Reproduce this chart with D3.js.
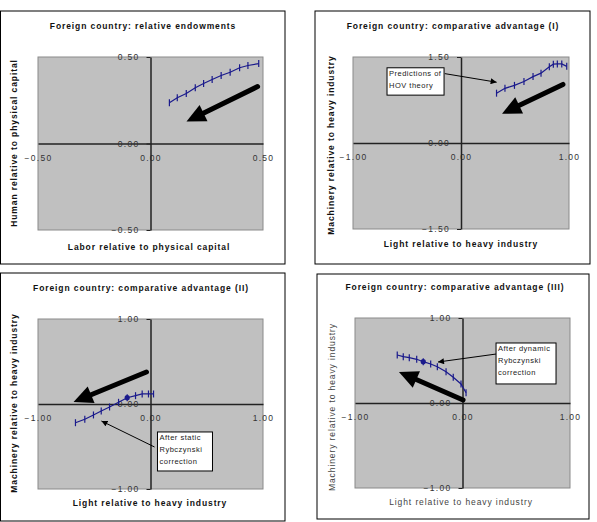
<!DOCTYPE html>
<html>
<head>
  <meta charset="utf-8">
  <title>Foreign country panels</title>
  <script src="https://d3js.org/d3.v7.min.js"></script>
  <style>
    body { margin: 0; padding: 0; background: white; }
    svg { font-family: Arial, "Liberation Sans", sans-serif; display: block; }
    .tick text { fill: #333; font-size: 8.5px; letter-spacing: 1.3px; }
    .ttl { font-size: 8.5px; font-weight: bold; letter-spacing: 0.9px; fill: #111; }
  </style>
</head>
<body>
  <div id="chart"></div>
  <script>
    // values
    var p1X = [0.084, 0.119, 0.159, 0.199, 0.236, 0.274, 0.314, 0.354, 0.396, 0.433, 0.481];
    var p1Y = [0.235, 0.264, 0.289, 0.322, 0.347, 0.370, 0.393, 0.412, 0.438, 0.451, 0.462];
    var p2X = [0.329, 0.407, 0.495, 0.583, 0.667, 0.741, 0.818, 0.855, 0.892, 0.933, 0.979];
    var p2Y = [0.869, 0.954, 1.005, 1.073, 1.158, 1.218, 1.329, 1.375, 1.380, 1.380, 1.337];
    var p3X = [-0.667, -0.584, -0.507, -0.438, -0.364, -0.284, -0.207, -0.133, -0.074, -0.018, 0.027];
    var p3Y = [-0.220, -0.180, -0.129, -0.082, -0.035, 0.020, 0.074, 0.098, 0.118, 0.118, 0.118];
    var p4X = [-0.607, -0.551, -0.495, -0.426, -0.365, -0.296, -0.234, -0.153, -0.086, -0.014, 0.033];
    var p4Y = [0.565, 0.545, 0.533, 0.514, 0.486, 0.459, 0.427, 0.368, 0.302, 0.224, 0.121];

    var ticks1 = [-0.5, 0, 0.5];
    var ticks2 = [-1, 0, 1];
    var ticks2y = [-1.5, 0, 1.5];

    var titles = ["Foreign country: relative endowments",
                  "Foreign country: comparative advantage (I)",
                  "Foreign country: comparative advantage (II)",
                  "Foreign country: comparative advantage (III)"];
    var xTitles = ["Labor relative to physical capital", "Light relative to heavy industry",
                   "Light relative to heavy industry", "Light relative to heavy industry"];
    var yTitles = ["Human relative to physical capital", "Machinery relative to heavy industry",
                   "Machinery relative to heavy industry", "Machinery relative to heavy industry"];

    // annotations, in data units: [x1, y1, x2, y2]
    var bigArrows = [[0.476, 0.329, 0.16, 0.127], [0.944, 1.022, 0.38, 0.511],
                     [-0.036, 0.376, -0.684, 0.024], [0.005, 0.035, -0.591, 0.365]];
    var noteArrows = [null, [-0.15, 1.21, 0.33, 1.06], [0.036, -0.506, -0.436, -0.2], [0.312, 0.576, -0.228, 0.482]];
    var noteBoxes = [null, [-0.685, 1.312, -0.157, 0.835], [0.062, -0.329, 0.551, -0.788], [0.312, 0.706, 0.870, 0.224]];
    var noteText = [null, ["Predictions of", "HOV theory"], ["After static", "Rybczynski", "correction"],
                    ["After dynamic", "Rybczynski", "correction"]];
    var dotIndex = [-1, -1, 6, 4];

    var panels = [
      { box: [0.5, 11, 285, 264], plot: [38, 57, 263, 230], xt: ticks1, yt: ticks1, xs: p1X, ys: p1Y,
        tx: 143, ty: 26, xx: 149, xy: 247, yx: 14, yy: 143, bold: true },
      { box: [315, 11, 590, 264], plot: [353, 57, 569, 229], xt: ticks2, yt: ticks2y, xs: p2X, ys: p2Y,
        tx: 453, ty: 26, xx: 461, xy: 244, yx: 331, yy: 145, bold: true },
      { box: [0.5, 273, 285, 521], plot: [38, 319, 263, 489], xt: ticks2, yt: ticks2, xs: p3X, ys: p3Y,
        tx: 141, ty: 288, xx: 150, xy: 503, yx: 14, yy: 403, bold: true },
      { box: [317, 274, 589, 519], plot: [355, 318, 570, 488], xt: ticks2, yt: ticks2, xs: p4X, ys: p4Y,
        tx: 455, ty: 287, xx: 461, xy: 502, yx: 332, yy: 407, bold: false }
    ];

    var svg = d3.select("#chart").append("svg")
      .attr("width", 597).attr("height", 522);

    var defs = svg.append("defs");
    defs.append("marker").attr("id", "thin")
      .attr("viewBox", "0 0 10 10").attr("refX", 10).attr("refY", 5)
      .attr("markerWidth", 7).attr("markerHeight", 6).attr("markerUnits", "userSpaceOnUse")
      .attr("orient", "auto")
      .append("path").attr("d", "M0,0L10,5L0,10z").attr("fill", "#000");

    panels.forEach(function(p, i) {
      var g = svg.append("g");
      g.append("rect")
        .attr("x", p.box[0]).attr("y", p.box[1])
        .attr("width", p.box[2] - p.box[0]).attr("height", p.box[3] - p.box[1])
        .attr("fill", "white").attr("stroke", "#000").attr("stroke-width", 1);

      var x = d3.scaleLinear().domain([p.xt[0], p.xt[2]]).range([p.plot[0], p.plot[2]]);
      var y = d3.scaleLinear().domain([p.yt[0], p.yt[2]]).range([p.plot[3], p.plot[1]]);

      g.append("rect")
        .attr("x", x(p.xt[0])).attr("y", y(p.yt[2]))
        .attr("width", x(p.xt[2]) - x(p.xt[0])).attr("height", y(p.yt[0]) - y(p.yt[2]))
        .attr("fill", "#c0c0c0").attr("stroke", "#8a8a8a").attr("stroke-width", 1);

      // x axis through y = 0
      var xa = g.append("g").attr("transform", "translate(0," + y(0) + ")")
        .call(d3.axisBottom(x).tickValues(p.xt).tickFormat(d3.format(".2f"))
          .tickSize(0).tickPadding(11));
      xa.select(".domain").attr("stroke", "#222").attr("stroke-width", 1.5);

      // y axis through x = 0
      var ya = g.append("g").attr("transform", "translate(" + x(0) + ",0)")
        .call(d3.axisLeft(y).tickValues(p.yt).tickFormat(d3.format(".2f"))
          .tickSize(4).tickSizeOuter(0).tickPadding(7));
      ya.select(".domain").attr("stroke", "#222").attr("stroke-width", 1.5);
      ya.selectAll(".tick line").attr("stroke", "#222");
      g.selectAll(".tick text").attr("font-family", null).attr("font-size", null);

      // titles
      g.append("text").attr("class", "ttl").attr("x", p.tx).attr("y", p.ty)
        .attr("text-anchor", "middle").attr("dy", "0.35em").text(titles[i]);
      g.append("text").attr("class", "ttl").attr("x", p.xx).attr("y", p.xy)
        .attr("text-anchor", "middle").attr("dy", "0.35em")
        .style("font-weight", p.bold ? "bold" : "normal")
        .style("fill", p.bold ? "#111" : "#444")
        .text(xTitles[i]);
      g.append("text").attr("class", "ttl")
        .attr("transform", "translate(" + p.yx + "," + p.yy + ") rotate(-90)")
        .attr("text-anchor", "middle").attr("dy", "0.35em")
        .style("font-weight", p.bold ? "bold" : "normal")
        .style("fill", p.bold ? "#111" : "#444")
        .text(yTitles[i]);

      // series
      var pts = p.xs.map(function(v, k) { return [v, p.ys[k]]; });
      var line = d3.line().x(function(d) { return x(d[0]); }).y(function(d) { return y(d[1]); });
      g.append("path").datum(pts).attr("d", line)
        .attr("fill", "none").attr("stroke", "#1a1a8c").attr("stroke-width", 1.2);
      g.selectAll(".mk").data(pts).enter().append("line")
        .attr("x1", function(d) { return x(d[0]); }).attr("x2", function(d) { return x(d[0]); })
        .attr("y1", function(d) { return y(d[1]) - 3.5; }).attr("y2", function(d) { return y(d[1]) + 3.5; })
        .attr("stroke", "#1a1a8c").attr("stroke-width", 1.2);
      if (dotIndex[i] >= 0) {
        var d0 = pts[dotIndex[i]];
        g.append("circle").attr("cx", x(d0[0])).attr("cy", y(d0[1])).attr("r", 2.6).attr("fill", "#1a1a8c");
      }

      // thick black arrow
      var a = bigArrows[i];
      var x1 = x(a[0]), y1 = y(a[1]), x2 = x(a[2]), y2 = y(a[3]);
      var ang = Math.atan2(y2 - y1, x2 - x1), hl = 19, hw = 9;
      var bx = x2 - hl * Math.cos(ang), by = y2 - hl * Math.sin(ang);
      g.append("line").attr("x1", x1).attr("y1", y1).attr("x2", bx + 2 * Math.cos(ang)).attr("y2", by + 2 * Math.sin(ang))
        .attr("stroke", "#000").attr("stroke-width", 5).attr("stroke-linecap", "round");
      g.append("path")
        .attr("d", "M" + x2 + "," + y2 +
          "L" + (bx + hw * Math.sin(ang)) + "," + (by - hw * Math.cos(ang)) +
          "L" + (bx - hw * Math.sin(ang)) + "," + (by + hw * Math.cos(ang)) + "Z")
        .attr("fill", "#000");

      // note box + thin arrow
      if (noteBoxes[i]) {
        var b = noteBoxes[i];
        g.append("rect").attr("x", x(b[0])).attr("y", y(b[1]))
          .attr("width", x(b[2]) - x(b[0])).attr("height", y(b[3]) - y(b[1]))
          .attr("fill", "white").attr("stroke", "#000").attr("stroke-width", 1);
        g.selectAll(".nt").data(noteText[i]).enter().append("text")
          .attr("x", x(b[0]) + 2).attr("y", function(d, k) { return y(b[1]) + 5.5 + k * 12; })
          .attr("dy", "0.35em").attr("font-size", 7.5).attr("letter-spacing", 0.5).attr("fill", "#222")
          .text(function(d) { return d; });
        var n = noteArrows[i];
        g.append("line").attr("x1", x(n[0])).attr("y1", y(n[1])).attr("x2", x(n[2])).attr("y2", y(n[3]))
          .attr("stroke", "#000").attr("stroke-width", 1).attr("marker-end", "url(#thin)");
      }
    });
  </script>
</body>
</html>
